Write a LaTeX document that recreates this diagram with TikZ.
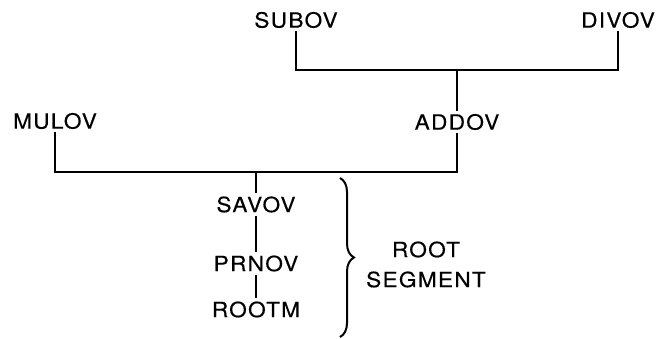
\documentclass[tikz,border=0pt]{standalone}
\usepackage{fontspec}
\setmainfont{TeX Gyre Heros}
\newfontfamily\segfont[LetterSpace=6, FakeStretch=1.08, FakeBold=0.3]{TeX Gyre Heros}
\usetikzlibrary{positioning, decorations.pathreplacing}
\tikzset{
  seg/.style={inner sep=3pt, font=\segfont\fontsize{21}{30}\selectfont},
  link/.style={line width=2pt},
  curly/.style={line width=2pt, decorate, decoration={brace, amplitude=14pt}},
}
\begin{document}
\begin{tikzpicture}[x=1pt, y=-1pt]
  \useasboundingbox (0,0) rectangle (661,339);

  % Overlay level
  \node[seg] (subov) at (296,20) {SUBOV};
  \node[seg] (divov) at (618,20) {DIVOV};
  \node[seg] (mulov) at (55,121) {MULOV};
  \node[seg] (addov) at (457,122) {ADDOV};

  % Root segment
  \node[seg] (savov) at (256,204.5) {SAVOV};
  \node[seg] (prnov) at (256,263.5) {PRNOV};
  \node[seg] (rootm) at (256,309.5) {ROOTM};
  \node[seg, align=center] (rootlbl) at (426,264.5) {ROOT\\SEGMENT};

  % Bars
  \coordinate (topbar) at (457,70);
  \coordinate (midbar) at (256,172);
  \draw[link] (subov.south) |- (topbar) -| (divov.south);
  \draw[link] (topbar) -- (addov.north);
  \draw[link] (mulov.south) |- (midbar) -| (addov.south);
  \draw[link] (midbar) -- (savov.north);
  \draw[link] (savov.south) -- (prnov.north);
  \draw[link] (prnov.south) -- (rootm.north);

  % Brace
  \coordinate (bracetop) at (340,178);
  \coordinate (bracebot) at (340,337);
  \draw[curly] (bracetop) -- (bracebot);
\end{tikzpicture}
\end{document}
